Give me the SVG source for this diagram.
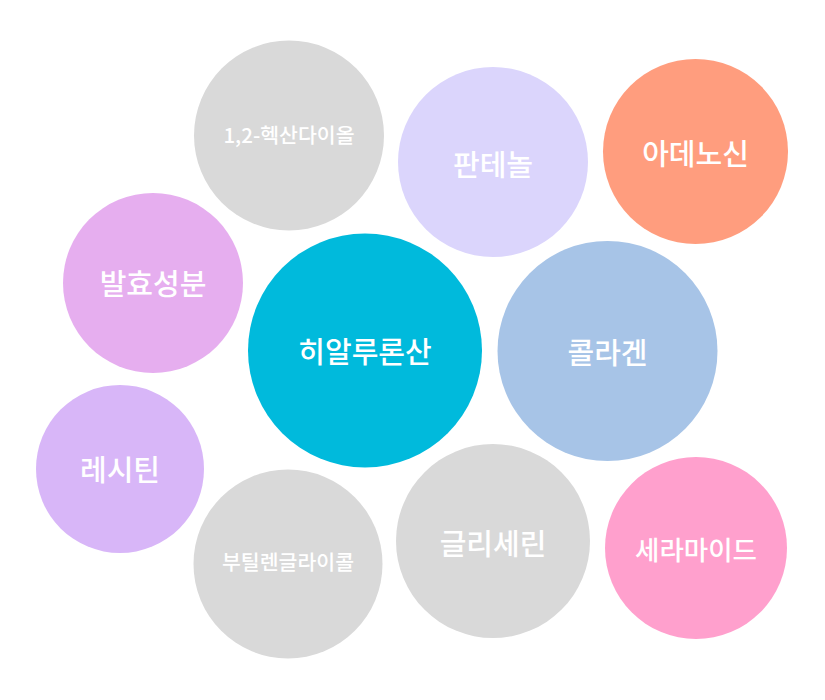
<svg xmlns="http://www.w3.org/2000/svg" width="825" height="700" viewBox="0 0 825 700">
<style>
text{font-family:"Noto Sans CJK KR","Noto Sans",sans-serif;fill:#ffffff;text-anchor:middle;dominant-baseline:central;font-weight:500}
.l{font-size:29px}
.s{font-size:20.5px}
.gray{fill:#d9d9d9}
</style>
<rect width="825" height="700" fill="#ffffff"/>
<g id="connectors"></g>
<g id="n-hexanediol"><circle class="gray" cx="289" cy="135.5" r="95"/><text class="s" x="289" y="134">1,2-헥산다이올</text></g>
<g id="n-panthenol"><circle cx="493" cy="162" r="95" fill="#dbd5fc"/><text class="l" x="493" y="163">판테놀</text></g>
<g id="n-adenosine"><circle cx="695.5" cy="151.5" r="92.5" fill="#ff9d7e"/><text class="l" x="695.5" y="152">아데노신</text></g>
<g id="n-ferment"><circle cx="153" cy="283" r="90" fill="#e6aeef"/><text class="l" x="153" y="282">발효성분</text></g>
<g id="n-hyaluronic"><circle cx="365" cy="350.5" r="117" fill="#00badc"/><text class="l" x="365" y="350">히알루론산</text></g>
<g id="n-collagen"><circle cx="607.5" cy="351" r="110" fill="#a7c4e7"/><text class="l" x="607.5" y="351">콜라겐</text></g>
<g id="n-lecithin"><circle cx="120" cy="469" r="84" fill="#d8b6f8"/><text class="l" x="120" y="468">레시틴</text></g>
<g id="n-butylene"><circle class="gray" cx="288" cy="564" r="94.5"/><text class="s" x="288" y="561">부틸렌글라이콜</text></g>
<g id="n-glycerin"><circle class="gray" cx="493" cy="541" r="97"/><text class="l" x="493" y="542">글리세린</text></g>
<g id="n-ceramide"><circle cx="696" cy="548" r="91" fill="#ffa0cd"/><text class="l" x="696" y="548" style="font-size:26.5px">세라마이드</text></g>
</svg>
